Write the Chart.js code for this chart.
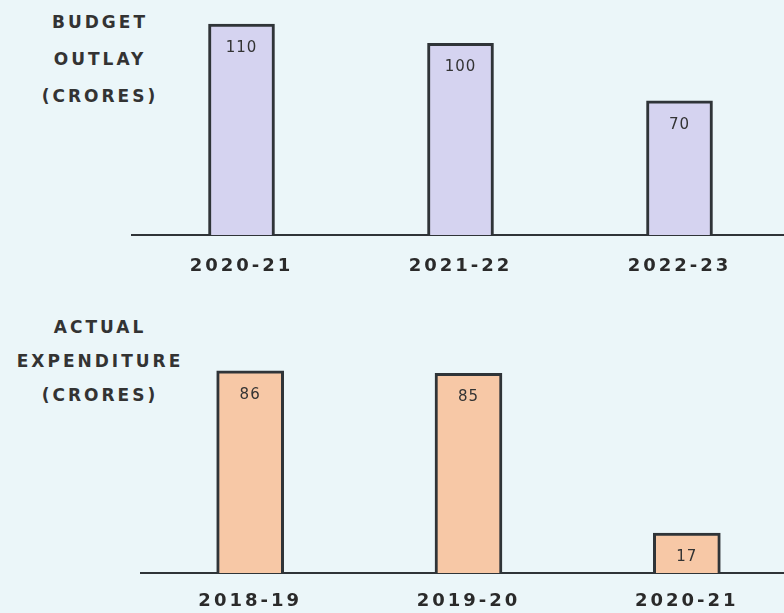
<!DOCTYPE html>
<html>
<head>
<meta charset="utf-8">
<script src="https://cdn.jsdelivr.net/npm/chart.js@4.4.1/dist/chart.umd.min.js"></script>
<style>
  html, body { margin: 0; padding: 0; width: 784px; height: 613px; overflow: hidden; background: #ebf6f9; }
  .wrap { position: absolute; left: 0; width: 800px; }
  .title {
    position: absolute; width: 200px; text-align: center;
    font-family: "DejaVu Sans", sans-serif; font-weight: bold; font-size: 17px;
    letter-spacing: 3px; color: #333;
  }
</style>
</head>
<body>
<div class="title" style="left:0; top:4px; line-height:37px;">BUDGET<br>OUTLAY<br>(CRORES)</div>
<div class="title" style="left:0; top:310px; line-height:34px;">ACTUAL<br>EXPENDITURE<br>(CRORES)</div>
<div class="wrap" style="top:0; height:300px;"><canvas id="budgetChart"></canvas></div>
<div class="wrap" style="top:300px; height:313px;"><canvas id="actualChart"></canvas></div>
<script>
// Budget outlay by year
const budgetYears = ['2020-21', '2021-22', '2022-23'];
const budgetValues = [110, 100, 70];

// Actual expenditure by year
const actualYears = ['2018-19', '2019-20', '2020-21'];
const actualValues = [86, 85, 17];

const inkColor = '#2f3438';
const labelFont = { family: 'DejaVu Sans', size: 18, weight: 'bold' };

// Wider letters for the tick labels, like the hand lettering
const spacedText = {
    id: 'spacedText',
    beforeDraw(chart) {
        chart.ctx.letterSpacing = '3px';
    },
    afterDraw(chart) {
        chart.ctx.letterSpacing = '0px';
    }
};

// Writes the value just under the top of each bar
const valueLabels = {
    id: 'valueLabels',
    afterDatasetsDraw(chart) {
        const ctx = chart.ctx;
        const meta = chart.getDatasetMeta(0);
        ctx.save();
        ctx.letterSpacing = '1px';
        ctx.font = '15px "DejaVu Sans"';
        ctx.fillStyle = '#333';
        ctx.textAlign = 'center';
        ctx.textBaseline = 'middle';
        meta.data.forEach((bar, i) => {
            ctx.fillText(chart.data.datasets[0].data[i], bar.x, bar.y + 24);
        });
        ctx.restore();
    }
};

function makeChart(id, labels, values, fill, opts) {
    const ctx = document.getElementById(id).getContext('2d');
    return new Chart(ctx, {
        type: 'bar',
        data: {
            labels: labels,
            datasets: [{
                data: values,
                backgroundColor: fill,
                borderColor: inkColor,
                borderWidth: 3,
                borderSkipped: 'bottom',
                barThickness: opts.barWidth
            }]
        },
        options: {
            responsive: true,
            maintainAspectRatio: false,
            animation: false,
            layout: { padding: opts.padding },
            plugins: {
                legend: { display: false },
                tooltip: { enabled: false }
            },
            scales: {
                x: {
                    grid: { display: false },
                    border: { display: true, color: inkColor, width: 2 },
                    ticks: { color: '#2a2a2a', font: labelFont, padding: opts.tickPad },
                    afterFit: (scale) => { scale.height = opts.axisHeight; }
                },
                y: {
                    display: false,
                    min: 0,
                    max: opts.max
                }
            }
        },
        plugins: [spacedText, valueLabels]
    });
}

makeChart('budgetChart', budgetYears, budgetValues, '#d5d3f0', {
    padding: { left: 132, right: 11, top: 5, bottom: 0 },
    axisHeight: 65, tickPad: 13, max: 120, barWidth: 66
});

makeChart('actualChart', actualYears, actualValues, '#f7c8a6', {
    padding: { left: 141, right: 4, top: 38, bottom: 0 },
    axisHeight: 40, tickPad: 10, max: 100, barWidth: 67
});
</script>
</body>
</html>
